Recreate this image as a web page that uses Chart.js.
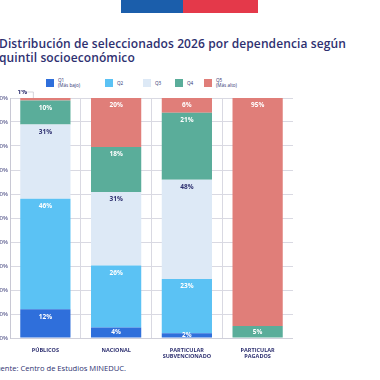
<!DOCTYPE html>
<html><head><meta charset="utf-8">
<script src="https://cdn.jsdelivr.net/npm/chart.js@4.4.1/dist/chart.umd.min.js"></script>
<style>
html,body{margin:0;padding:0;background:#fff;width:380px;height:380px;overflow:hidden;position:relative;font-family:"Open Sans",sans-serif;color:#2e3070}
#bb{position:absolute;left:121px;top:0;width:62px;height:13px;background:#1b5eab}
#br{position:absolute;left:183px;top:0;width:75px;height:13px;background:#e4394a}
#title{position:absolute;left:-1px;top:37px;font-size:12px;font-weight:600;line-height:14px;white-space:nowrap;letter-spacing:0.1px}
#src{position:absolute;left:-8px;top:363px;font-size:7.6px;white-space:nowrap}
#wrap{position:absolute;left:-20px;top:90px;width:313px;height:272px}
.lg{position:absolute;top:79px;height:8px}
.sq{position:absolute;width:8px;height:8px;top:0}
.lt{position:absolute;font-size:4.6px;line-height:5px;white-space:nowrap;color:#2e3070}
</style></head><body>
<div id="bb"></div><div id="br"></div>
<div id="title">Distribución de seleccionados 2026 por dependencia según<br>quintil socioeconómico</div>
<div id="legend"></div>
<div id="wrap"><canvas id="c"></canvas></div>
<div id="src">Fuente: Centro de Estudios MINEDUC.</div>
<script>
const categories = [["PÚBLICOS"], ["NACIONAL"], ["PARTICULAR","SUBVENCIONADO"], ["PARTICULAR","PAGADOS"]];
const seriesNames = ["Q1", "Q2", "Q3", "Q4", "Q5"];
const seriesSub = ["(Más bajo)", "", "", "", "(Más alto)"];
const q1 = [12, 4.4, 2, 0];
const q2 = [46, 25.8, 22.6, 0];
const q3 = [31, 30.6, 41.3, 0];
const q4 = [10, 18.8, 28, 5];
const q5 = [1, 20.4, 6.1, 95];
const q1Labels = ["12%", "4%", "2%", ""];
const q2Labels = ["46%", "26%", "23%", ""];
const q3Labels = ["31%", "31%", "48%", ""];
const q4Labels = ["10%", "18%", "21%", "5%"];
const q5Labels = ["1%", "20%", "6%", "95%"];
const yTicks = [0,10,20,30,40,50,60,70,80,90,100];

const colors = ["#2f6fdb", "#5bc2f4", "#dde9f6", "#5aad9a", "#e07e79"];
const labelColors = ["#ffffff", "#ffffff", "#2e3070", "#ffffff", "#ffffff"];
const allData = [q1,q2,q3,q4,q5];
const allLabels = [q1Labels,q2Labels,q3Labels,q4Labels,q5Labels];

// HTML legend
const lgX = [46, 105, 143, 175, 204];
const lgEl = document.getElementById('legend');
seriesNames.forEach((n,i)=>{
  const d = document.createElement('div'); d.className='lg'; d.style.left=lgX[i]+'px';
  const s = document.createElement('div'); s.className='sq'; s.style.background=colors[i]; d.appendChild(s);
  const t = document.createElement('div'); t.className='lt';
  t.style.left='12px';
  if(seriesSub[i]){ t.style.top='-1px'; t.innerHTML=n+'<br>'+seriesSub[i]; } else { t.style.top='1.5px'; t.textContent=n; }
  d.appendChild(t); lgEl.appendChild(d);
});

const labelPlugin = {
  id:'segLabels',
  afterDatasetsDraw(chart){
    const ctx = chart.ctx;
    ctx.save();
    ctx.font = 'bold 6.5px "Open Sans", sans-serif';
    ctx.textAlign='center'; ctx.textBaseline='middle';
    chart.data.datasets.forEach((ds,di)=>{
      const meta = chart.getDatasetMeta(di);
      meta.data.forEach((bar,i)=>{
        const txt = allLabels[di][i];
        if(!txt) return;
        const top = Math.min(bar.y, bar.base), bot = Math.max(bar.y, bar.base);
        if(bot-top < 3){
          // outside label with leader line
          ctx.fillStyle='#2e3070';
          const lx = bar.x - 23, ly = top - 6;
          ctx.fillText(txt, lx, ly);
          ctx.strokeStyle='#b8b8c4'; ctx.lineWidth=0.6;
          ctx.beginPath(); ctx.moveTo(lx+5, ly); ctx.lineTo(lx+11, ly); ctx.lineTo(lx+11, top); ctx.stroke();
          return;
        }
        ctx.fillStyle = labelColors[di];
        const y = Math.min(top + 7.5, (top+bot)/2);
        ctx.fillText(txt, bar.x, y);
      });
    });
    ctx.restore();
  }
};

new Chart(document.getElementById('c'), {
  type:'bar',
  data:{
    labels: categories,
    datasets: seriesNames.map((n,i)=>({label:n, data:allData[i], backgroundColor:colors[i], borderWidth:0, barPercentage:0.71, categoryPercentage:1}))
  },
  options:{
    responsive:true, maintainAspectRatio:false, animation:false,
    layout:{padding:{top:8,right:0,left:0,bottom:0}},
    plugins:{legend:{display:false}, tooltip:{enabled:false}},
    scales:{
      x:{stacked:true,
        grid:{color:'#d9d9e2', lineWidth:1, drawTicks:false, offset:true},
        border:{color:'#d0d0da'},
        ticks:{color:'#2e3070', font:{size:5.5, weight:'bold', family:'"Open Sans", sans-serif'}, padding:9, maxRotation:0, autoSkip:false},
        afterFit(s){ s.height = 24; }
      },
      y:{stacked:true, min:0, max:100,
        afterBuildTicks(s){ s.ticks = yTicks.map(v=>({value:v})); },
        grid:{color:'#d9d9e2', lineWidth:1, drawTicks:false},
        border:{color:'#c8c8d4'},
        ticks:{color:'#2e3070', font:{size:6, family:'"Open Sans", sans-serif'}, padding:2, callback:v=>v+'%'},
        afterFit(s){ s.width = 30; }
      }
    }
  },
  plugins:[labelPlugin]
});
</script>
</body></html>
